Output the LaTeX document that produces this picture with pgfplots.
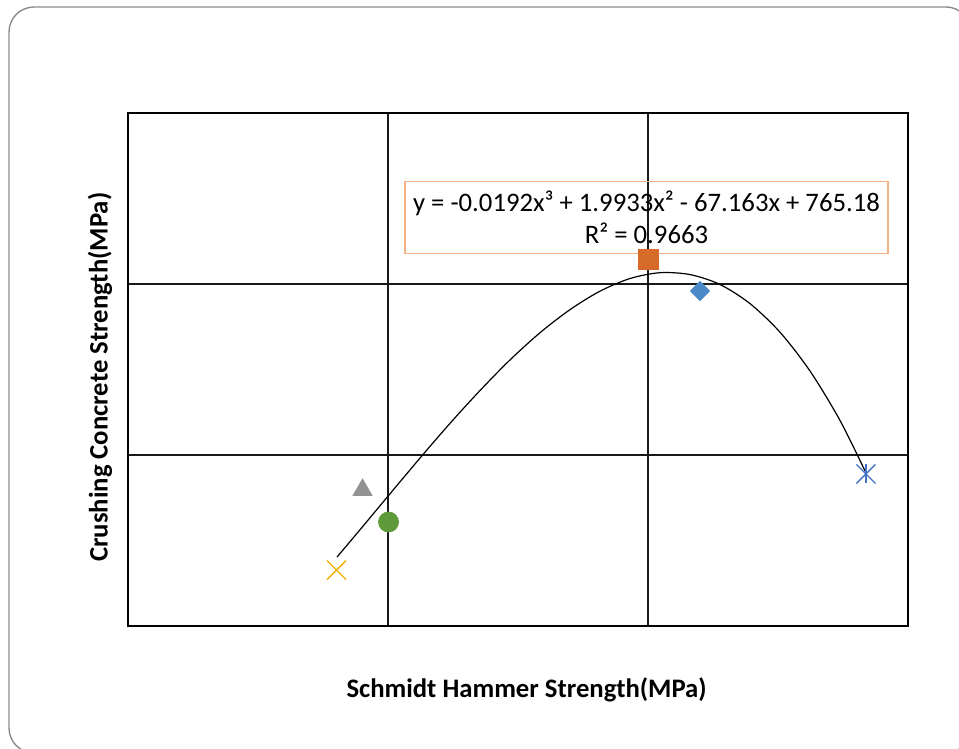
\documentclass[border=0pt]{standalone}
\usepackage{fontspec}
\setmainfont{Carlito}
\usepackage{pgfplots}
\usepackage{pgfplotstable}
\pgfplotsset{compat=1.18}

\definecolor{framegray}{HTML}{8C8C8C}
\definecolor{eqorange}{HTML}{F4B183}
\definecolor{sqorange}{HTML}{D66A28}
\definecolor{dmblue}{HTML}{4A88C7}
\definecolor{stblue}{HTML}{4472C4}
\definecolor{trgray}{HTML}{929292}
\definecolor{cigreen}{HTML}{5E9A3A}
\definecolor{xgold}{HTML}{F0B000}

% cubic trend line, sampled along the fitted curve
\pgfplotstableread{
x       y
34.019  24.03
34.462  25.63
35.038  27.73
35.615  29.82
36.192  31.85
36.769  33.77
37.346  35.56
37.923  37.15
38.500  38.50
39.077  39.58
39.654  40.32
40.231  40.66
40.808  40.55
41.385  39.97
41.962  38.85
42.538  37.18
43.115  34.91
43.692  32.02
44.192  28.95
}\trendline

\begin{document}
\begin{tikzpicture}[x=0.5bp,y=0.5bp]
\useasboundingbox (0,0) rectangle (959,749);
\begin{scope}
  \clip (0,0) rectangle (959,749);
  \draw[draw=framegray, line width=0.7bp, rounded corners=12.5bp] (9,742) rectangle (971,-4);
\end{scope}

\begin{axis}[
  at={(64bp,61.5bp)}, anchor=south west,
  scale only axis, width=390bp, height=256.5bp,
  xmin=30, xmax=45, ymin=20, ymax=50,
  xtick={35,40}, ytick={30,40},
  xticklabels={}, yticklabels={},
  major tick length=0pt,
  grid=major,
  major grid style={black!90, line width=0.7bp},
  axis line style={black, line width=1bp},
  xlabel={Schmidt Hammer Strength(MPa)},
  ylabel={Crushing Concrete Strength(MPa)},
  label style={font=\fontsize{13.4}{16}\selectfont\bfseries},
  xlabel style={at={(axis description cs:0.511,-0.1248)}, anchor=center},
  ylabel style={at={(axis description cs:-0.0359,0.485)}, anchor=center},
  clip=false,
]
% measured points
\addplot[only marks, mark=square*, mark size=5bp, color=sqorange] coordinates {(40,41.46)};
\addplot[only marks, mark=square*, mark size=3.4bp, color=dmblue, mark options={rotate=45}] coordinates {(41,39.59)};
\addplot[only marks, mark=x, mark size=6.7bp, color=stblue, mark options={line width=0.65bp}] coordinates {(44.19,28.89)};
\addplot[only marks, mark=|, mark size=4.75bp, color=stblue, mark options={line width=0.65bp}] coordinates {(44.19,28.89)};
\addplot[only marks, mark=triangle*, mark size=5.5bp, color=trgray] coordinates {(34.51,27.95)};
\addplot[only marks, mark=*, mark size=5bp, color=cigreen] coordinates {(35.01,26.08)};
\addplot[only marks, mark=x, mark size=6.7bp, color=xgold, mark options={line width=0.65bp}] coordinates {(34.01,23.27)};

% polynomial trend line
\addplot[black, line width=0.6bp, smooth, no marks] table[x=x, y=y] {\trendline};

\node[draw=eqorange, line width=0.6bp, minimum width=241.5bp, minimum height=36bp,
      inner sep=0pt, align=center, font=\fontsize{13.4}{16}\selectfont]
  at (rel axis cs:0.6647,0.797)
  {y = -0.0192x³ + 1.9933x² - 67.163x + 765.18\\R² = 0.9663};
\end{axis}
\end{tikzpicture}
\end{document}
